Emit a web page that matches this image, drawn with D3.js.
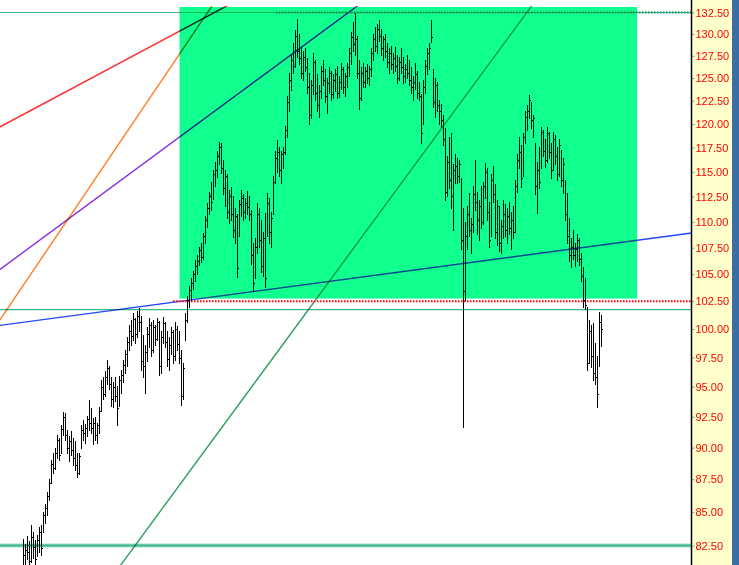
<!DOCTYPE html>
<html><head><meta charset="utf-8">
<script src="https://cdn.jsdelivr.net/npm/d3@7"></script>
<style>html,body{margin:0;padding:0;background:#fff;overflow:hidden}</style>
</head><body><svg id="c" width="739" height="565"></svg>
<script>
// ---- data (daily bars, left to right) ----
const highs = [
83.0,82.6,83.2,82.8,84.0,83.5,82.9,83.3,83.9,84.0,
85.0,85.6,86.5,87.5,89.0,89.6,90.0,91.0,90.8,91.8,
92.9,92.8,91.4,90.9,91.3,90.8,90.5,89.6,89.6,91.8,
92.2,91.9,92.6,93.9,93.2,92.4,92.5,92.0,93.3,95.6,
95.8,96.3,97.3,96.8,95.8,95.4,95.8,95.1,95.9,96.4,
97.3,98.2,99.3,100.4,100.8,101.4,101.0,101.6,101.9,101.2,
99.5,98.6,100.2,101.0,100.6,100.8,100.4,101.0,100.7,99.8,
101.1,100.6,99.8,99.3,100.2,99.9,100.6,100.3,99.8,98.2,
97.0,101.4,103.0,103.9,104.6,105.3,106.3,106.8,107.6,108.0,
108.9,110.6,111.9,113.0,114.0,115.2,116.0,117.1,118.1,118.0,
116.2,115.2,114.8,113.2,113.5,112.6,111.4,110.8,112.2,113.2,
112.8,112.4,113.1,112.6,111.2,108.0,108.4,111.9,111.4,110.2,
109.0,110.9,112.9,112.4,111.0,114.6,117.2,118.3,117.6,117.2,
117.6,119.8,123.0,125.6,127.6,129.0,130.4,131.7,130.0,128.5,
128.0,128.4,127.2,125.6,124.8,127.8,127.0,125.4,124.2,126.4,
127.0,126.0,125.0,126.2,125.8,125.4,126.0,126.4,125.2,126.7,
126.2,125.6,126.7,128.4,130.2,131.4,132.4,129.8,127.0,126.2,
126.7,126.2,126.6,126.4,128.4,130.0,130.8,131.2,131.6,130.6,
129.8,130.0,129.0,128.4,128.6,127.8,128.5,127.6,127.4,128.4,
127.4,126.6,127.6,127.0,126.2,125.2,126.7,125.8,124.6,123.2,
124.8,127.0,128.4,129.0,131.6,126.0,125.0,124.6,122.6,122.2,
121.0,119.6,116.6,118.6,119.0,115.8,116.8,116.4,116.2,114.4,
111.4,110.0,111.6,112.9,110.4,113.6,116.2,113.0,112.2,113.6,
114.0,115.9,115.4,112.0,114.8,115.6,113.8,112.2,111.6,110.2,
112.2,111.8,111.4,112.0,111.0,111.6,114.2,116.8,118.6,117.8,
119.0,121.4,122.0,123.1,122.4,121.0,118.0,116.0,117.6,119.7,
119.4,118.4,119.7,119.2,118.0,119.2,118.8,117.6,118.4,117.3,
116.4,114.2,112.9,110.4,108.4,109.2,108.0,108.8,108.4,107.0,
105.7,104.6,102.0,100.8,100.4,100.5,98.8,97.6,101.5,101.3];
const lows = [
80.6,81.0,81.5,80.9,81.3,81.6,80.8,81.7,82.0,81.8,
83.5,84.2,84.8,85.9,87.2,88.0,88.3,89.2,89.0,89.6,
91.0,90.6,89.6,88.9,89.4,88.6,88.2,87.7,87.9,90.0,
90.6,90.4,90.9,91.4,91.2,90.3,90.6,90.4,91.2,93.0,
94.0,94.2,95.2,94.8,93.4,93.3,93.8,91.8,93.4,94.5,
95.4,96.2,96.8,98.2,98.6,99.0,98.8,99.3,99.8,96.4,
95.8,94.5,97.2,98.4,97.6,98.0,98.6,99.0,96.0,96.2,
98.8,98.4,96.8,96.4,97.8,97.0,97.3,98.2,97.0,93.5,
94.0,99.0,100.6,102.0,102.6,103.6,104.4,105.0,105.9,106.1,
106.4,108.0,109.5,110.8,111.2,112.3,113.6,114.5,115.8,114.9,
112.8,111.6,110.4,109.9,110.2,108.5,108.0,104.7,108.6,110.6,
110.2,110.4,110.8,110.2,106.0,103.4,104.6,107.0,107.6,105.2,
104.8,103.8,108.6,108.0,107.6,110.8,113.9,115.0,114.6,113.9,
115.4,116.8,118.6,121.4,123.7,125.6,126.2,127.4,126.6,125.0,
124.8,125.8,123.4,120.0,120.6,123.2,122.6,121.4,120.8,122.8,
124.2,122.4,121.2,123.4,122.6,122.8,123.6,122.8,122.9,123.8,
123.4,123.0,124.0,125.2,126.6,128.0,127.6,125.0,121.6,122.6,
124.0,124.0,124.4,124.2,125.2,127.0,128.0,127.8,129.2,127.6,
127.0,127.4,126.2,125.6,126.0,125.6,125.8,124.4,124.8,125.6,
124.4,124.6,125.0,124.2,123.4,122.6,123.8,122.8,122.6,118.0,
120.0,123.4,125.4,126.0,129.1,121.8,120.8,121.4,120.0,119.7,
117.8,112.2,112.6,113.4,111.4,109.2,113.9,113.9,114.0,107.4,
91.7,102.6,107.4,108.6,107.0,109.0,111.2,108.8,108.2,109.4,
109.8,112.4,110.2,107.6,108.6,112.0,108.4,107.8,107.2,107.0,
108.4,108.6,108.0,108.8,107.4,108.4,109.0,113.0,115.4,113.5,
114.6,118.0,119.4,120.6,119.6,118.6,112.8,110.9,113.4,115.4,
116.6,115.5,116.0,116.4,114.4,115.2,115.8,114.2,114.6,113.6,
112.9,110.2,108.0,106.2,105.7,106.4,105.8,106.2,105.9,104.4,
102.0,101.8,96.4,97.0,96.7,95.6,95.2,93.3,96.8,98.5];
const closes = [
81.8,82.2,82.0,81.4,83.1,82.4,81.5,82.9,83.5,82.3,
84.8,85.3,86.2,87.2,88.7,88.4,89.6,90.6,89.4,91.5,
92.5,91.0,90.0,90.5,89.8,89.2,88.6,88.0,89.3,91.4,
91.2,91.6,92.3,92.0,91.6,92.0,91.0,91.8,93.0,95.0,
94.4,95.8,96.6,95.2,94.0,95.0,94.2,93.2,95.6,96.0,
96.9,97.8,98.9,99.8,99.4,100.9,99.6,101.2,100.6,97.2,
96.8,98.0,99.6,100.4,98.2,100.2,99.1,100.6,96.8,99.3,
100.5,98.9,97.4,98.6,99.7,97.6,100.0,98.7,97.5,94.2,
96.6,100.8,102.6,103.5,104.2,105.0,105.8,106.2,107.3,106.6,
108.6,110.2,111.4,112.6,112.0,114.8,115.2,116.6,117.6,115.4,
113.4,114.6,111.0,112.6,110.8,109.2,110.6,105.6,111.8,112.4,
111.0,111.9,111.5,110.8,106.8,104.2,107.6,110.8,108.2,105.8,
108.4,104.6,111.9,109.0,110.4,114.0,116.4,117.0,115.2,116.8,
117.0,119.4,122.4,124.8,127.0,126.4,129.8,128.0,127.2,125.6,
127.4,126.2,124.0,121.0,124.2,126.8,123.4,122.0,123.6,125.8,
124.8,123.0,124.4,125.6,123.2,124.8,125.4,123.4,124.6,126.0,
124.0,125.2,126.2,127.8,129.6,128.8,129.4,125.6,122.8,125.6,
124.6,125.8,125.0,126.0,127.8,129.4,128.6,130.6,129.8,128.4,
129.4,128.0,126.8,127.8,126.6,127.2,126.4,125.0,126.8,126.2,
125.2,126.0,125.6,124.8,124.0,124.6,125.4,123.4,123.0,119.0,
124.0,126.4,127.8,128.4,129.6,122.4,124.2,122.0,121.4,120.4,
118.4,113.0,116.0,114.2,112.6,115.2,115.6,114.6,115.8,108.2,
103.4,108.6,110.8,109.2,109.8,112.8,112.0,110.2,111.6,110.0,
113.6,115.0,111.0,108.2,114.2,112.8,109.0,111.6,108.0,109.6,
110.8,109.2,110.6,109.4,110.2,109.0,113.6,116.2,117.0,114.4,
118.6,120.8,121.4,122.6,120.4,120.6,113.6,115.2,114.0,119.2,
117.2,116.2,119.0,117.0,115.2,118.4,116.6,114.8,117.8,114.2,
115.8,110.8,108.6,106.8,107.6,106.8,107.4,108.2,106.4,104.8,
102.6,102.2,97.0,99.8,97.6,96.2,95.8,94.4,100.6,100.0];

const yTicks = d3.range(82.5, 132.51, 2.5);
// shaded range box: bar index span and price span
const zoneIdx = [78.25, 307];
const zonePrice = [102.75, 133.15];
// horizontal levels
const solidLevels = [132.5, 101.75];
const heavyLevel = 82.5;
const redDotLevel = 102.5, redDotFrom = 75;
const topDotLevel = 132.5, topDotFrom = 126.5;
// trend lines: two anchor points [bar index, price]
const trendlines = [
  {color:'#2448FF', p:[[58,102.0],[220,106.0]]},
  {color:'#FF2A2A', p:[[0,121.0],[38.5,125.5]]},
  {color:'#FF7F24', p:[[29,112.17],[78.5,127.78]]},
  {color:'#8A2BE2', p:[[35.65,112.17],[78.5,118.65]]},
  {color:'#2E9E63', p:[[55.65,82.42],[188.5,113.66]]}
];

// ---- layout ----
const W = 739, H = 565, plotR = 691, plotT = 6;
const svg = d3.select('#c');
const N = highs.length;
const x = d3.scaleLinear().domain([0, N-1]).range([23, 601]);
const y = d3.scaleLog().domain([82.5, 132.5]).range([545.5, 12.5]);

svg.append('rect').attr('width',W).attr('height',H).attr('fill','#fff');
svg.append('defs').append('clipPath').attr('id','pc')
  .append('rect').attr('x',0).attr('y',plotT).attr('width',plotR).attr('height',H-plotT);
const g = svg.append('g').attr('clip-path','url(#pc)').style('isolation','isolate');

// zone
g.append('rect')
  .attr('x', x(zoneIdx[0])).attr('width', x(zoneIdx[1]) - x(zoneIdx[0]))
  .attr('y', y(zonePrice[1])).attr('height', y(zonePrice[0]) - y(zonePrice[1]))
  .attr('fill', '#10FF8F');

const lineLayer = g.append('g');
solidLevels.forEach(v => {
  lineLayer.append('line').attr('x1',0).attr('x2',plotR).attr('y1',y(v)).attr('y2',y(v))
    .attr('stroke','#3DB88C').attr('stroke-width',1.2).style('mix-blend-mode','multiply');
});
lineLayer.append('line').attr('x1',0).attr('x2',plotR).attr('y1',y(heavyLevel)).attr('y2',y(heavyLevel))
  .attr('stroke','#A6DEC8').attr('stroke-width',4);
lineLayer.append('line').attr('x1',0).attr('x2',plotR).attr('y1',y(heavyLevel)).attr('y2',y(heavyLevel))
  .attr('stroke','#3DB88C').attr('stroke-width',2);

trendlines.forEach(t => {
  const [a,b] = t.p;
  const x1 = x(a[0]), y1 = y(a[1]), x2 = x(b[0]), y2 = y(b[1]);
  const m = (y2-y1)/(x2-x1);
  const xa = -10, xb = plotR + 10;
  lineLayer.append('line')
    .attr('x1',xa).attr('y1',y1 + m*(xa-x1))
    .attr('x2',xb).attr('y2',y1 + m*(xb-x1))
    .attr('stroke',t.color).attr('stroke-width',1.4)
    .style('mix-blend-mode','multiply');
});

lineLayer.append('line').attr('x1',x(topDotFrom)).attr('x2',plotR)
  .attr('y1',y(topDotLevel)).attr('y2',y(topDotLevel))
  .attr('stroke','#1F8A55').attr('stroke-width',2).attr('stroke-dasharray','1.5 1.5');
lineLayer.append('line').attr('x1',x(redDotFrom)).attr('x2',plotR)
  .attr('y1',y(redDotLevel)).attr('y2',y(redDotLevel))
  .attr('stroke','#FF1010').attr('stroke-width',2).attr('stroke-dasharray','1.6 1.4');

// bars (crisp 1px OHLC-style: high-low stem + close tick)
const bars = g.append('g').attr('shape-rendering','crispEdges');
d3.range(N).forEach(i => {
  const xi = Math.round(x(i)) + 0.5;
  bars.append('line').attr('x1',xi).attr('x2',xi)
    .attr('y1',Math.round(y(highs[i]))).attr('y2',Math.round(y(lows[i])) + 1)
    .attr('stroke','#000').attr('stroke-width',1.2);
  const yc = Math.round(y(closes[i])) + 0.5;
  bars.append('line').attr('x1',xi).attr('x2',xi+1.5)
    .attr('y1',yc).attr('y2',yc)
    .attr('stroke','#000').attr('stroke-width',1);
});

// axis panel
svg.append('rect').attr('x',plotR).attr('y',0).attr('width',W-plotR).attr('height',H).attr('fill','#FFFFCC');
svg.append('rect').attr('x',732).attr('y',0).attr('width',W-732).attr('height',H).attr('fill','#3A6EA5');
const axis = d3.axisRight(y).tickValues(yTicks).tickFormat(d3.format('.2f')).tickSize(3).tickPadding(1);
const ag = svg.append('g').attr('transform',`translate(${plotR+0.5},0)`).call(axis);
ag.select('.domain').remove();
ag.selectAll('.tick line').attr('stroke','#999');
ag.selectAll('.tick text').attr('fill','#FF0000')
  .style('font-family','"Liberation Sans", Arial, sans-serif').style('font-size','11px');
svg.append('line').attr('x1',plotR+0.5).attr('x2',plotR+0.5).attr('y1',0).attr('y2',H)
  .attr('stroke','#000').attr('stroke-width',1.5);
</script>
</body></html>
